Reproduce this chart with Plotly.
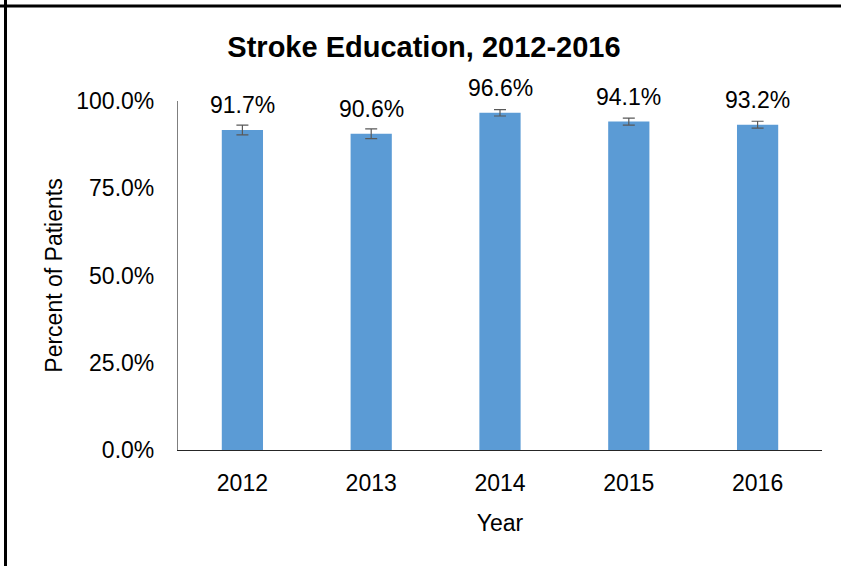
import plotly.graph_objects as go

years = ["2012", "2013", "2014", "2015", "2016"]
percent = [91.7, 90.6, 96.6, 94.1, 93.2]
err = [1.4, 1.4, 0.9, 1.0, 1.0]
y_ticks = [0, 25, 50, 75, 100]
y_tick_labels = ["0.0%", "25.0%", "50.0%", "75.0%", "100.0%"]

W, H = 841, 566
L, R, T, B = 178, 19, 101, 116
pw, ph = W - L - R, H - T - B

FONT = "Liberation Sans, Arial, sans-serif"

fig = go.Figure()
fig.add_trace(go.Bar(
    x=years, y=percent, width=0.32,
    marker=dict(color="#5B9BD5", line=dict(width=0)),
    error_y=dict(type="data", array=err, visible=True, color="#595959", thickness=1.2, width=6),
))

for i, v in enumerate(percent):
    fig.add_annotation(x=i, y=v, text=f"{v:.1f}%", showarrow=False, yshift=25,
                       yanchor="middle", font=dict(size=23, color="#000000", family=FONT))

# outer frame (top and left edges)
px2x = lambda px: (px - L) / pw
py2y = lambda py: (H - B - py) / ph
fig.add_shape(type="line", xref="paper", yref="paper", x0=px2x(0), x1=px2x(W), y0=py2y(6), y1=py2y(6),
              line=dict(color="#000000", width=3))
fig.add_shape(type="line", xref="paper", yref="paper", x0=px2x(5.5), x1=px2x(5.5), y0=py2y(0), y1=py2y(H),
              line=dict(color="#000000", width=3))

fig.update_layout(
    width=W, height=H,
    margin=dict(l=L, r=R, t=T, b=B, autoexpand=False),
    paper_bgcolor="white", plot_bgcolor="white",
    showlegend=False,
    font=dict(family=FONT, size=23, color="#000000"),
    title=dict(text="<b>Stroke Education, 2012-2016</b>", x=424 / W, xanchor="center",
               y=1 - 47 / H, yanchor="middle", yref="container",
               font=dict(family=FONT, size=29, color="#000000")),
)
fig.update_xaxes(
    type="category", categoryorder="array", categoryarray=years, range=[-0.5, len(years) - 0.5],
    showline=True, linecolor="#262626", linewidth=1.2, ticks="", showgrid=False,
    tickfont=dict(size=23), ticklabelstandoff=12,
    title=dict(text="Year", font=dict(size=23), standoff=20),
)
fig.update_yaxes(
    range=[0, 100], tickvals=y_ticks, ticktext=y_tick_labels,
    showline=True, linecolor="#7F7F7F", linewidth=1.2, ticks="", showgrid=False, zeroline=False,
    tickfont=dict(size=23), ticklabelstandoff=18,
    title=dict(text="Percent of Patients", font=dict(size=23), standoff=7),
)

fig.write_html("out.html", config={"displayModeBar": False},
               post_script="document.body.style.margin='0';")
